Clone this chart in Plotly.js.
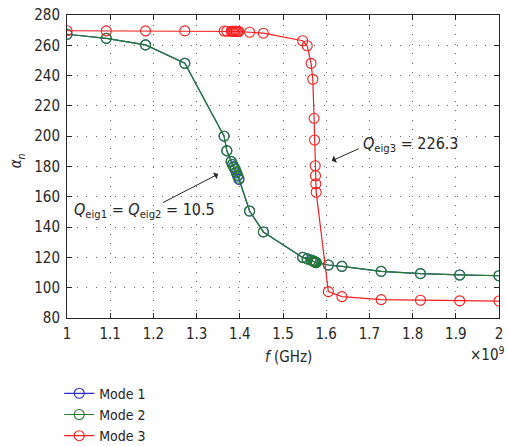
<!DOCTYPE html>
<html>
<head>
<meta charset="utf-8">
<script src="https://cdn.plot.ly/plotly-3.0.1.min.js"></script>
<style>
  html, body { margin: 0; padding: 0; background: #fff; }
  #chart { width: 507px; height: 446px; }
</style>
</head>
<body>
<div id="chart"></div>
<script>
// Frequency sweep, in units of 10^9 Hz (refined around the two resonances)
const freq = [1.0000, 1.0909, 1.1818, 1.2727, 1.3636, 1.3700, 1.3800, 1.3830, 1.3860, 1.3890,
              1.3920, 1.3950, 1.3980, 1.4227, 1.4545, 1.5455, 1.5560, 1.5650, 1.5690, 1.5720,
              1.5730, 1.5745, 1.5752, 1.5760, 1.5768, 1.6050, 1.6364, 1.7273, 1.8182, 1.9091,
              2.0000];

// Characteristic angle alpha_n of each mode (degrees)
const mode1 = [267.3, 264.6, 260.3, 248.1, 200.0, 190.3, 183.2, 181.2, 179.6, 178.0,
               175.8, 173.6, 171.5, 150.6, 136.8, 120.0, 119.0, 118.3, 117.8, 117.4,
               117.2, 117.0, 116.8, 116.6, 116.5, 115.0, 114.1, 110.8, 109.3, 108.4,
               107.9];
const mode2 = [267.3, 264.6, 260.3, 248.1, 200.0, 190.5, 183.5, 181.5, 180.0, 178.5,
               176.5, 174.3, 172.2, 150.6, 136.8, 120.0, 119.0, 118.3, 117.8, 117.4,
               117.2, 117.0, 116.8, 116.6, 116.5, 115.0, 114.1, 110.8, 109.3, 108.4,
               107.9];
const mode3 = [269.6, 269.5, 269.5, 269.5, 269.4, 269.3, 269.3, 269.3, 269.2, 269.2,
               269.2, 269.1, 269.1, 268.6, 268.0, 263.0, 259.7, 248.1, 237.6, 211.8,
               197.5, 180.5, 173.9, 168.5, 163.0, 97.4, 94.1, 92.1, 91.7, 91.3,
               91.2];

const modeNames = ['Mode 1', 'Mode 2', 'Mode 3'];
const modeColors = ['rgb(45,45,205)', 'rgb(35,125,45)', 'rgb(245,30,30)'];

// Modal significance Q values quoted on the chart
const qEig12 = 10.5;
const qEig3 = 226.3;

const FONT = '"DejaVu Sans Condensed", "DejaVu Sans", sans-serif';
const INK = '#262626';

const traces = [mode1, mode2, mode3].map((vals, i) => ({
  x: freq,
  y: vals,
  type: 'scatter',
  mode: 'lines+markers',
  name: modeNames[i],
  line: { color: modeColors[i], width: 1.2 },
  marker: { symbol: 'circle-open', size: 10, color: modeColors[i], line: { width: 1.1, color: modeColors[i] } }
}));

const axisCommon = {
  showline: true,
  linecolor: INK,
  linewidth: 1,
  mirror: 'ticks',
  ticks: 'inside',
  ticklen: 5,
  tickcolor: INK,
  tickwidth: 1,
  showgrid: true,
  gridcolor: 'rgba(0,0,0,0.6)',
  gridwidth: 1,
  griddash: '1px,8.5px',
  zeroline: false,
  tickfont: { family: FONT, size: 15, color: INK }
};

const layout = {
  width: 507,
  height: 446,
  margin: { l: 67, r: 8, t: 15, b: 128, autoexpand: false },
  paper_bgcolor: '#fff',
  plot_bgcolor: '#fff',
  showlegend: true,
  legend: {
    x: -0.018, xanchor: 'left',
    y: -0.197, yanchor: 'top',
    bgcolor: 'rgba(0,0,0,0)',
    font: { family: FONT, size: 14, color: INK },
    tracegroupgap: 0
  },
  xaxis: Object.assign({}, axisCommon, {
    range: [1, 2],
    tick0: 1,
    dtick: 0.1,
    tickformat: '~g',
    ticklabelstandoff: 2,
    automargin: false
  }),
  yaxis: Object.assign({}, axisCommon, {
    range: [80, 280],
    tick0: 80,
    dtick: 20,
    ticklabelstandoff: 3,
    automargin: false
  }),
  annotations: [
    // axis titles and exponent
    { xref: 'paper', yref: 'paper', x: -0.116, y: 0.52, xanchor: 'center', yanchor: 'middle',
      text: '<i>α</i><sub><i>n</i></sub>',
      textangle: -90, showarrow: false, font: { family: FONT, size: 15, color: INK } },
    { xref: 'paper', yref: 'paper', x: 0.512, y: -0.128, xanchor: 'center', yanchor: 'middle',
      text: '<i>f</i> (GHz)',
      showarrow: false, font: { family: FONT, size: 15, color: INK } },
    { xref: 'paper', yref: 'paper', x: 1.0185, xanchor: 'right', y: -0.119, yanchor: 'middle',
      text: '×10<sup>9</sup>', showarrow: false, font: { family: FONT, size: 15, color: INK } },
    // Q of mode 3
    { xref: 'x', yref: 'y', x: 1.680, y: 194.2, xanchor: 'left', yanchor: 'middle',
      text: '<i>Q</i><sub>eig3</sub> = ' + qEig3.toFixed(1),
      showarrow: false, font: { family: FONT, size: 16, color: INK } },
    { xref: 'x', yref: 'y', x: 1.613, y: 183.8, axref: 'x', ayref: 'y', ax: 1.679, ay: 192.2,
      text: '', showarrow: true, arrowhead: 1, arrowsize: 1.3, arrowwidth: 1, arrowcolor: INK },
    // Q of modes 1 and 2
    { xref: 'x', yref: 'y', x: 1.012, y: 150.8, xanchor: 'left', yanchor: 'middle',
      text: '<i>Q</i><sub>eig1</sub> = <i>Q</i><sub>eig2</sub> = ' + qEig12.toFixed(1),
      showarrow: false, font: { family: FONT, size: 16, color: INK } },
    { xref: 'x', yref: 'y', x: 1.350, y: 175.0, axref: 'x', ayref: 'y', ax: 1.219, ay: 155.7,
      text: '', showarrow: true, arrowhead: 1, arrowsize: 1.3, arrowwidth: 1, arrowcolor: INK }
  ]
};

Plotly.newPlot('chart', traces, layout, { staticPlot: true, displayModeBar: false });
</script>
</body>
</html>
